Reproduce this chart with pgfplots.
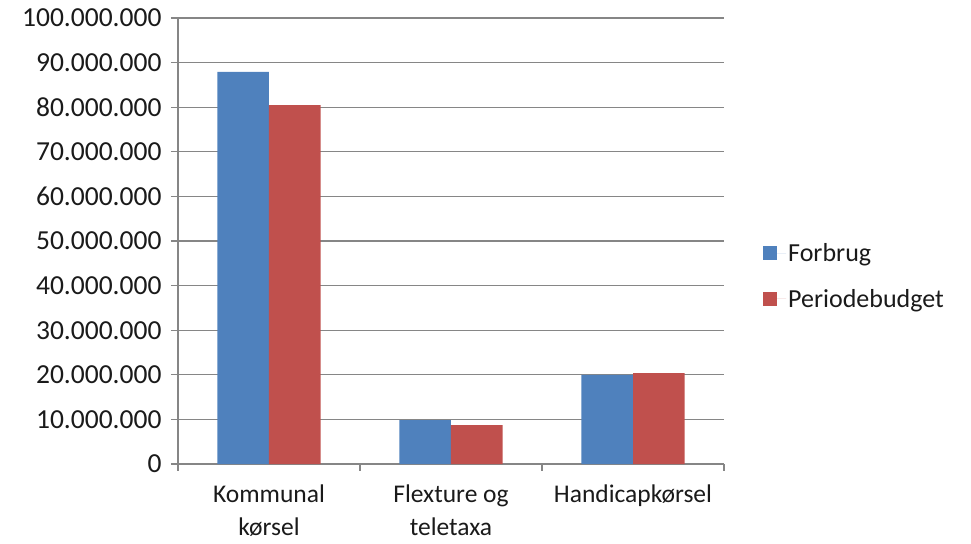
\documentclass[border=0pt]{standalone}
\usepackage{pgfplots}
\pgfplotsset{compat=1.18}
\usepackage{fontspec}
\setmainfont{Carlito}
\definecolor{cblue}{HTML}{4F81BD}
\definecolor{cred}{HTML}{C0504D}
\definecolor{cgrid}{HTML}{868686}
\definecolor{ctext}{HTML}{1A1A1A}
\begin{document}
\begin{tikzpicture}
\path[use as bounding box] (-178bp,-80bp) rectangle (793bp,464bp);
\begin{axis}[
  at={(0,0)}, anchor=south west,
  scale only axis, width=546bp, height=446bp,
  xmin=-0.5, xmax=2.5, ymin=0, ymax=100000000,
  axis x line=bottom, axis y line=left,
  axis line style={-, draw=cgrid, line width=1.2bp},
  ybar=0pt, bar width=0.284,
  xtick={-0.5,0.5,1.5,2.5}, xticklabels={},
  extra x ticks={0,1,2},
  extra x tick labels={{Kommunal\\kørsel},{Flexture og\\teletaxa},{Handicapkørsel}},
  extra x tick style={major tick length=0pt, grid=none,
     tick label style={align=center, font=\fontsize{25.5bp}{33bp}\selectfont, text=ctext, yshift=-17bp}},
  ytick={0,10000000,20000000,30000000,40000000,50000000,60000000,70000000,80000000,90000000,100000000},
  scaled y ticks=false,
  /pgf/number format/fixed,
  /pgf/number format/precision=0,
  /pgf/number format/1000 sep={.},
  /pgf/number format/assume math mode=true,
  y tick label style={font=\fontsize{27.5bp}{31bp}\selectfont, text=ctext, xshift=-6bp},
  tick align=outside, major tick length=7bp,
  tick style={draw=cgrid, line width=1.2bp},
  ymajorgrids, grid style={draw=cgrid, line width=1.2bp},
  legend style={at={(rel axis cs:1,0.4215)}, anchor=west, xshift=36bp, draw=none, fill=none,
     font=\fontsize{26bp}{31bp}\selectfont, text=ctext, row sep=22bp, cells={anchor=west}},
  legend image code/.code={\fill[#1] (0bp,-7bp) rectangle (14bp,7bp); \path (0bp,0bp) -- (23bp,0bp);},
]
\addplot[fill=cblue, draw=none] coordinates {(0,87900000) (1,9860000) (2,20000000)};
\addplot[fill=cred, draw=none] coordinates {(0,80450000) (1,8730000) (2,20360000)};
\legend{Forbrug, Periodebudget}
\end{axis}
\end{tikzpicture}
\end{document}
